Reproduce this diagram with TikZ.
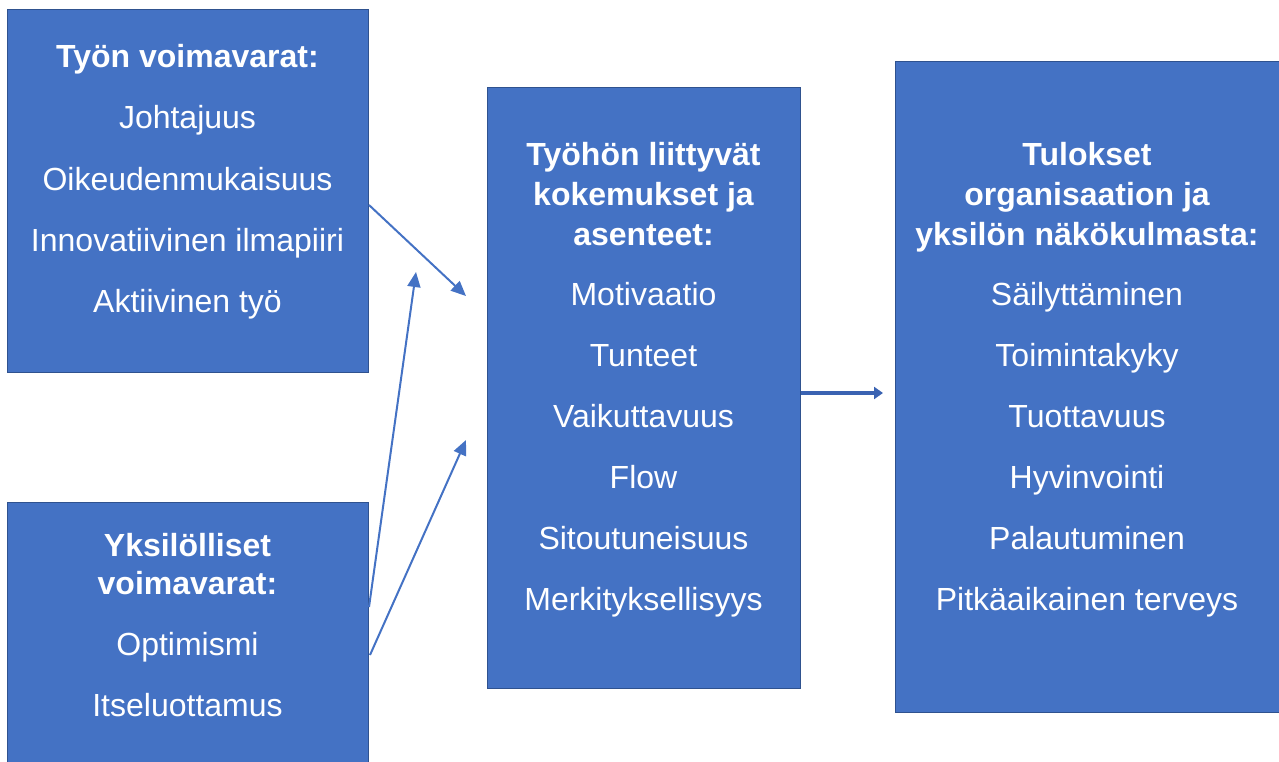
\documentclass[tikz,border=0pt]{standalone}
\usepackage{fontspec}
\setmainfont{Liberation Sans}
\usetikzlibrary{arrows.meta}
\definecolor{boxblue}{HTML}{4472C4}
\definecolor{boxedge}{HTML}{2F528F}
\definecolor{arrowdark}{HTML}{3A63B2}
\begin{document}
\begin{tikzpicture}[x=1pt,y=-1pt,
 panel/.style={draw=boxedge, line width=1pt, fill=boxblue, inner sep=0pt, anchor=north west},
 txt/.style={text=white, font=\fontsize{32}{38}\selectfont, anchor=base, inner sep=0pt},
 ttl/.style={text=white, font=\fontsize{32}{38}\selectfont\bfseries, anchor=base, inner sep=0pt},
 conn/.style={draw=boxblue, line width=2pt, -{Triangle[length=15pt,width=13pt]}},
 bigconn/.style={draw=arrowdark, line width=4pt, -{Triangle[length=9pt,width=12pt]}},
]
\useasboundingbox (0,0) rectangle (1279,762);
% boxes
\node[panel, minimum width=361pt, minimum height=363pt] (b1) at (7,9) {};
\node[panel, minimum width=361pt, minimum height=290pt] (b2) at (7,502) {};
\node[panel, minimum width=313pt, minimum height=601pt] (b3) at (487,87) {};
\node[panel, minimum width=386pt, minimum height=651pt] (b4) at (895,61) {};
% box 1 text
\node[ttl] (t1a) at (187.5,68) {Työn voimavarat:};
\node[txt] (t1b) at (187.5,129) {Johtajuus};
\node[txt] (t1c) at (187.5,190) {Oikeudenmukaisuus};
\node[txt] (t1d) at (187.5,251) {Innovatiivinen ilmapiiri};
\node[txt] (t1e) at (187.5,312) {Aktiivinen työ};
% box 2 text
\node[ttl] (t2a) at (187.5,556) {Yksilölliset};
\node[ttl] (t2b) at (187.5,594) {voimavarat:};
\node[txt] (t2c) at (187.5,655) {Optimismi};
\node[txt] (t2d) at (187.5,716) {Itseluottamus};
% box 3 text
\node[ttl] (t3a) at (643.5,166) {Työhön liittyvät};
\node[ttl] (t3b) at (643.5,206) {kokemukset ja};
\node[ttl] (t3c) at (643.5,245) {asenteet:};
\node[txt] (t3d) at (643.5,305) {Motivaatio};
\node[txt] (t3e) at (643.5,366) {Tunteet};
\node[txt] (t3f) at (643.5,427) {Vaikuttavuus};
\node[txt] (t3g) at (643.5,488) {Flow};
\node[txt] (t3h) at (643.5,549) {Sitoutuneisuus};
\node[txt] (t3i) at (643.5,610) {Merkityksellisyys};
% box 4 text
\node[ttl] (t4a) at (1087,166) {Tulokset};
\node[ttl] (t4b) at (1087,205) {organisaation ja};
\node[ttl] (t4c) at (1087,245) {yksilön näkökulmasta:};
\node[txt] (t4d) at (1087,305) {Säilyttäminen};
\node[txt] (t4e) at (1087,366) {Toimintakyky};
\node[txt] (t4f) at (1087,427) {Tuottavuus};
\node[txt] (t4g) at (1087,488) {Hyvinvointi};
\node[txt] (t4h) at (1087,549) {Palautuminen};
\node[txt] (t4i) at (1087,610) {Pitkäaikainen terveys};
% connector end points
\coordinate (s1) at (369,205);
\coordinate (e1) at (466,296);
\coordinate (s2) at (369,607);
\coordinate (e2) at (416,272);
\coordinate (s3) at (370,655);
\coordinate (e3) at (466,440);
\coordinate (s4) at (801,393);
\coordinate (e4) at (883,393);
\draw[conn] (s1) -- (e1);
\draw[conn] (s2) -- (e2);
\draw[conn] (s3) -- (e3);
\draw[bigconn] (s4) -- (e4);
\end{tikzpicture}
\end{document}
